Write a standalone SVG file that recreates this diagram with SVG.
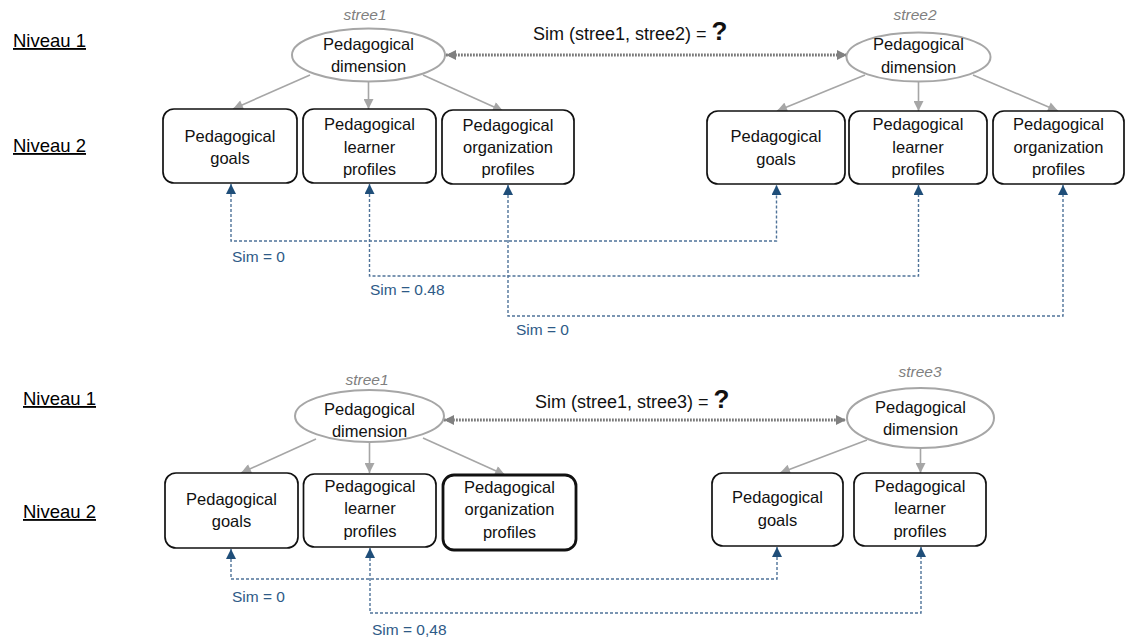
<svg xmlns="http://www.w3.org/2000/svg" width="1126" height="639" viewBox="0 0 1126 639">
<defs>
<style>
.lvl{font-family:"Liberation Sans",Arial,sans-serif;font-size:18.5px;fill:#000;text-decoration:underline}
.tag{font-family:"Liberation Sans",Arial,sans-serif;font-size:15.5px;font-style:italic;fill:#7f7f7f;text-anchor:middle}
.t{font-family:"Liberation Sans",Arial,sans-serif;font-size:16.5px;fill:#111;text-anchor:middle}
.q{font-family:"Liberation Sans",Arial,sans-serif;font-size:18px;fill:#111}
.qm{font-family:"Liberation Sans",Arial,sans-serif;font-size:26px;font-weight:bold;fill:#111}
.sim{font-family:"Liberation Sans",Arial,sans-serif;font-size:15.5px;fill:#2e5a87}
.ell{fill:#fff;stroke:#a6a6a6;stroke-width:2}
.box{fill:#fff;stroke:#111;stroke-width:1.7}
.boxb{fill:#fff;stroke:#111;stroke-width:2.8}
.ga{stroke:#a6a6a6;stroke-width:1.6;fill:none;marker-end:url(#ag)}
.dot{stroke:#7a7a7a;stroke-width:2.8;stroke-dasharray:1.8 1.2;fill:none;marker-start:url(#ad);marker-end:url(#ad)}
.bl{stroke:#4f7399;stroke-width:1.4;stroke-dasharray:3 2;fill:none;marker-start:url(#ab);marker-end:url(#ab)}
</style>
<marker id="ag" viewBox="0 0 10 10" refX="10" refY="5" markerWidth="11" markerHeight="10" markerUnits="userSpaceOnUse" orient="auto"><path d="M0,0 L10,5 L0,10 z" fill="#a6a6a6"/></marker>
<marker id="ad" viewBox="0 0 10 10" refX="10" refY="5" markerWidth="11" markerHeight="10" markerUnits="userSpaceOnUse" orient="auto-start-reverse"><path d="M0,0 L10,5 L0,10 z" fill="#808080"/></marker>
<marker id="ab" viewBox="0 0 10 10" refX="10" refY="5" markerWidth="10" markerHeight="10" markerUnits="userSpaceOnUse" orient="auto-start-reverse"><path d="M0,0 L10,5 L0,10 z" fill="#1f4e79"/></marker>
</defs>
<rect width="1126" height="639" fill="#fff"/>

<g id="labels">
<text class="lvl" x="13" y="47">Niveau 1</text>
<text class="lvl" x="13" y="152">Niveau 2</text>
<text class="lvl" x="23" y="405">Niveau 1</text>
<text class="lvl" x="23" y="518">Niveau 2</text>
<text class="q" x="533" y="40">Sim (stree1, stree2) = <tspan class="qm">?</tspan></text>
<text class="q" x="535" y="408">Sim (stree1, stree3) = <tspan class="qm">?</tspan></text>
<text class="sim" x="232" y="262">Sim = 0</text>
<text class="sim" x="370" y="295">Sim = 0.48</text>
<text class="sim" x="516" y="335">Sim = 0</text>
<text class="sim" x="232" y="602">Sim = 0</text>
<text class="sim" x="372" y="635">Sim = 0,48</text>
</g>

<g id="connectors">
<line class="dot" x1="446" y1="55" x2="847" y2="55"/>
<line class="ga" x1="310" y1="75" x2="233" y2="109"/>
<line class="ga" x1="368.5" y1="82" x2="368.5" y2="109"/>
<line class="ga" x1="423" y1="75" x2="503" y2="111"/>
<line class="ga" x1="865" y1="75" x2="777" y2="111"/>
<line class="ga" x1="918.5" y1="81.5" x2="918.5" y2="111"/>
<line class="ga" x1="973" y1="75" x2="1058" y2="111"/>
<path class="bl" d="M231,184 V241 H776.5 V185"/>
<path class="bl" d="M369.5,184 V276 H918.5 V185"/>
<path class="bl" d="M508,185 V316 H1063 V185"/>

<line class="dot" x1="444" y1="420" x2="846" y2="420"/>
<line class="ga" x1="316" y1="439" x2="241" y2="473"/>
<line class="ga" x1="369.5" y1="442" x2="369.5" y2="473"/>
<line class="ga" x1="423" y1="438" x2="505" y2="475"/>
<line class="ga" x1="867" y1="440" x2="780" y2="473"/>
<line class="ga" x1="920.5" y1="448" x2="920.5" y2="473"/>
<path class="bl" d="M231,549 V579 H777 V547"/>
<path class="bl" d="M370,548 V613 H921 V547"/>
</g>

<g id="s1-root">
<text class="tag" x="365" y="20">stree1</text>
<ellipse class="ell" cx="368.5" cy="55" rx="76.5" ry="26.5"/>
<text class="t" x="368.5" y="50">Pedagogical</text>
<text class="t" x="368.5" y="72">dimension</text>
</g>
<g id="s1-goals">
<rect class="box" x="163" y="109" width="134" height="74" rx="11"/>
<text class="t" x="230" y="142">Pedagogical</text>
<text class="t" x="230" y="164">goals</text>
</g>
<g id="s1-learner">
<rect class="box" x="303" y="109" width="133" height="74" rx="11"/>
<text class="t" x="369.5" y="130">Pedagogical</text>
<text class="t" x="369.5" y="153">learner</text>
<text class="t" x="369.5" y="175">profiles</text>
</g>
<g id="s1-org">
<rect class="box" x="442" y="110" width="132" height="74" rx="11"/>
<text class="t" x="508" y="131">Pedagogical</text>
<text class="t" x="508" y="153">organization</text>
<text class="t" x="508" y="175">profiles</text>
</g>

<g id="s2-root">
<text class="tag" x="915" y="20">stree2</text>
<ellipse class="ell" cx="918.5" cy="57" rx="72" ry="24.5"/>
<text class="t" x="918.5" y="50">Pedagogical</text>
<text class="t" x="918.5" y="73">dimension</text>
</g>
<g id="s2-goals">
<rect class="box" x="707" y="111" width="138" height="73" rx="11"/>
<text class="t" x="776" y="142">Pedagogical</text>
<text class="t" x="776" y="165">goals</text>
</g>
<g id="s2-learner">
<rect class="box" x="849" y="111" width="138" height="73" rx="11"/>
<text class="t" x="918" y="130">Pedagogical</text>
<text class="t" x="918" y="153">learner</text>
<text class="t" x="918" y="175">profiles</text>
</g>
<g id="s2-org">
<rect class="box" x="993" y="111" width="131" height="73" rx="11"/>
<text class="t" x="1058.5" y="130">Pedagogical</text>
<text class="t" x="1058.5" y="153">organization</text>
<text class="t" x="1058.5" y="175">profiles</text>
</g>

<g id="b1-root">
<text class="tag" x="367" y="385">stree1</text>
<ellipse class="ell" cx="369.5" cy="416" rx="74.5" ry="26"/>
<text class="t" x="369.5" y="415">Pedagogical</text>
<text class="t" x="369.5" y="437">dimension</text>
</g>
<g id="b1-goals">
<rect class="box" x="165" y="473" width="133" height="75" rx="11"/>
<text class="t" x="231.5" y="505">Pedagogical</text>
<text class="t" x="231.5" y="527">goals</text>
</g>
<g id="b1-learner">
<rect class="box" x="303.5" y="474" width="132.5" height="73" rx="11"/>
<text class="t" x="370" y="492">Pedagogical</text>
<text class="t" x="370" y="514">learner</text>
<text class="t" x="370" y="537">profiles</text>
</g>
<g id="b1-org">
<rect class="boxb" x="443" y="475" width="133" height="75" rx="11"/>
<text class="t" x="509.5" y="493">Pedagogical</text>
<text class="t" x="509.5" y="515">organization</text>
<text class="t" x="509.5" y="538">profiles</text>
</g>

<g id="b3-root">
<text class="tag" x="920" y="377">stree3</text>
<ellipse class="ell" cx="920.5" cy="418" rx="73.5" ry="30"/>
<text class="t" x="920.5" y="413">Pedagogical</text>
<text class="t" x="920.5" y="435">dimension</text>
</g>
<g id="b3-goals">
<rect class="box" x="712" y="473" width="131" height="73" rx="11"/>
<text class="t" x="777.5" y="503">Pedagogical</text>
<text class="t" x="777.5" y="526">goals</text>
</g>
<g id="b3-learner">
<rect class="box" x="854" y="473" width="132" height="73" rx="11"/>
<text class="t" x="920" y="492">Pedagogical</text>
<text class="t" x="920" y="514">learner</text>
<text class="t" x="920" y="537">profiles</text>
</g>
</svg>
